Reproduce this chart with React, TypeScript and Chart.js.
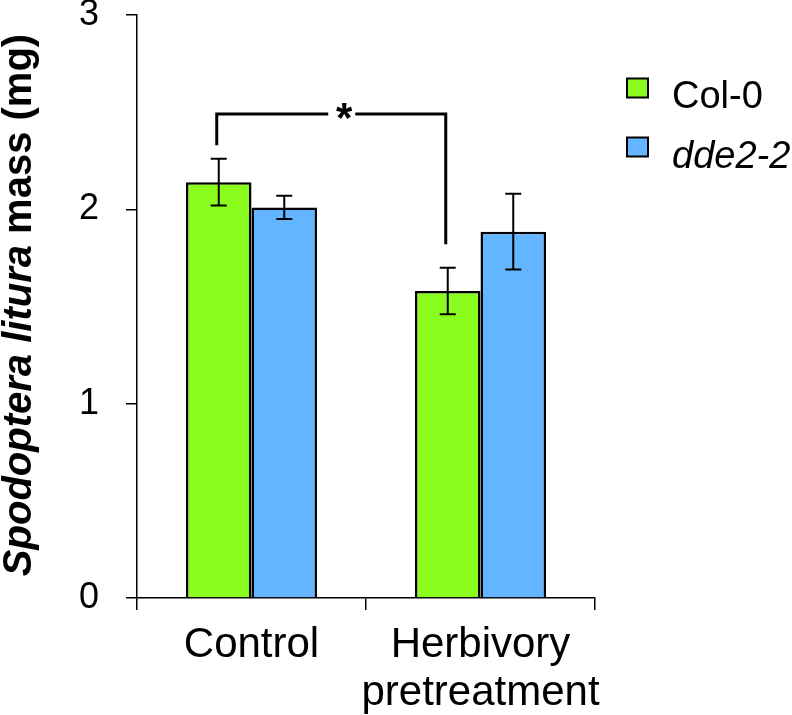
import React, { useEffect, useRef } from 'react';
import { Chart, registerables } from 'chart.js';

Chart.register(...registerables);

const categories = [['Control'], ['Herbivory', 'pretreatment']];
const seriesNames = ['Col-0', 'dde2-2'];
const col0Values = [2.14, 1.58];
const dde22Values = [2.01, 1.885];
const col0Errors = [0.12, 0.12];
const dde22Errors = [0.06, 0.195];
const yTickValues = [0, 1, 2, 3];
// significance bracket between Col-0 Control and Col-0 Herbivory (data units)
const bracketTop = 2.49;
const bracketLeftEnd = 2.33;
const bracketRightEnd = 1.82;
const bracketLabel = '*';

const FONT = '"Liberation Sans", Arial, Helvetica, sans-serif';
const GREEN = '#8AFC1E';
const BLUE = '#63B5FF';

const errorBarPlugin = {
  id: 'errorBars',
  afterDatasetsDraw(chart: any) {
    const ctx = chart.ctx;
    const y = chart.scales.y;
    const errs = [col0Errors, dde22Errors];
    ctx.save();
    ctx.strokeStyle = '#000';
    ctx.lineWidth = 2;
    chart.data.datasets.forEach((ds: any, i: number) => {
      const meta = chart.getDatasetMeta(i);
      meta.data.forEach((el: any, j: number) => {
        const v = ds.data[j];
        const e = errs[i][j];
        const x = el.x;
        const yt = y.getPixelForValue(v + e);
        const yb = y.getPixelForValue(v - e);
        const cap = 8;
        ctx.beginPath();
        ctx.moveTo(x, yt);
        ctx.lineTo(x, yb);
        ctx.moveTo(x - cap, yt);
        ctx.lineTo(x + cap, yt);
        ctx.moveTo(x - cap, yb);
        ctx.lineTo(x + cap, yb);
        ctx.stroke();
      });
    });
    ctx.restore();
  },
};

const bracketPlugin = {
  id: 'sigBracket',
  afterDatasetsDraw(chart: any) {
    const ctx = chart.ctx;
    const y = chart.scales.y;
    const meta = chart.getDatasetMeta(0);
    const xl = meta.data[0].x - 2;
    const xr = meta.data[1].x - 2;
    const yt = y.getPixelForValue(bracketTop);
    const yl = y.getPixelForValue(bracketLeftEnd);
    const yr = y.getPixelForValue(bracketRightEnd);
    const xs = (xl + xr) / 2 + 13;
    ctx.save();
    ctx.strokeStyle = '#000';
    ctx.lineWidth = 3;
    ctx.lineCap = 'butt';
    ctx.beginPath();
    ctx.moveTo(xl, yl);
    ctx.lineTo(xl, yt);
    ctx.lineTo(xs - 16, yt);
    ctx.moveTo(xs + 11, yt);
    ctx.lineTo(xr, yt);
    ctx.lineTo(xr, yr);
    ctx.stroke();
    ctx.fillStyle = '#000';
    ctx.font = `bold 42px ${FONT}`;
    ctx.textAlign = 'center';
    ctx.textBaseline = 'middle';
    ctx.fillText(bracketLabel, xs, yt + 6);
    ctx.restore();
  },
};

const legendPlugin = {
  id: 'customLegend',
  afterDraw(chart: any) {
    const ctx = chart.ctx;
    ctx.save();
    const items = [
      { text: seriesNames[0], color: GREEN, italic: false, y: 88 },
      { text: seriesNames[1], color: BLUE, italic: true, y: 147 },
    ];
    items.forEach((it) => {
      ctx.fillStyle = it.color;
      ctx.fillRect(627, it.y - 9.5, 21, 19);
      ctx.strokeStyle = '#000';
      ctx.lineWidth = 2;
      ctx.strokeRect(627, it.y - 9.5, 21, 19);
      ctx.fillStyle = '#000';
      ctx.font = `${it.italic ? 'italic ' : ''}38px ${FONT}`;
      ctx.textAlign = 'left';
      ctx.textBaseline = 'middle';
      ctx.fillText(it.text, 672, it.y + 10);
    });
    ctx.restore();
  },
};

const yTitlePlugin = {
  id: 'yTitle',
  afterDraw(chart: any) {
    const ctx = chart.ctx;
    ctx.save();
    const parts = [
      { t: 'Spodoptera litura', f: `italic bold 40px ${FONT}` },
      { t: ' mass (mg)', f: `bold 40px ${FONT}` },
    ];
    let total = 0;
    const widths = parts.map((p) => {
      ctx.font = p.f;
      const w = ctx.measureText(p.t).width;
      total += w;
      return w;
    });
    ctx.translate(20, 305);
    ctx.rotate(-Math.PI / 2);
    ctx.fillStyle = '#000';
    ctx.textBaseline = 'middle';
    ctx.textAlign = 'left';
    let x = -total / 2;
    parts.forEach((p, i) => {
      ctx.font = p.f;
      ctx.fillText(p.t, x, 0);
      x += widths[i];
    });
    ctx.restore();
  },
};

export default function App() {
  const ref = useRef<HTMLCanvasElement | null>(null);
  useEffect(() => {
    document.body.style.margin = '0';
    const canvas = ref.current!;
    const chart = new Chart(canvas, {
      type: 'bar',
      data: {
        labels: categories as any,
        datasets: [
          {
            label: seriesNames[0],
            data: col0Values,
            backgroundColor: GREEN,
            borderColor: '#000',
            borderWidth: 2.5,
            borderSkipped: 'bottom',
            categoryPercentage: 0.572,
            barPercentage: 1,
          },
          {
            label: seriesNames[1],
            data: dde22Values,
            backgroundColor: BLUE,
            borderColor: '#000',
            borderWidth: 2.5,
            borderSkipped: 'bottom',
            categoryPercentage: 0.572,
            barPercentage: 1,
          },
        ],
      },
      options: {
        animation: false,
        responsive: false,
        maintainAspectRatio: false,
        layout: { padding: { left: 0, right: 197, top: 15, bottom: 0 } },
        plugins: {
          legend: { display: false },
          tooltip: { enabled: false },
        },
        scales: {
          x: {
            grid: {
              display: true,
              offset: true,
              drawOnChartArea: false,
              drawTicks: true,
              tickLength: 12,
              color: '#000',
              lineWidth: 1.5,
            },
            border: { display: true, color: '#000', width: 1.5 },
            ticks: {
              color: '#000',
              font: { family: FONT, size: 42, lineHeight: 1.15 },
              padding: 11,
              maxRotation: 0,
              autoSkip: false,
            },
            afterFit: (s: any) => {
              s.height = 117;
              s.paddingLeft = 0;
              s.paddingRight = 0;
            },
          },
          y: {
            min: 0,
            max: 3,
            afterBuildTicks: (s: any) => {
              s.ticks = yTickValues.map((v) => ({ value: v }));
            },
            grid: {
              display: true,
              drawOnChartArea: false,
              drawTicks: true,
              tickLength: 11,
              color: '#000',
              lineWidth: 1.5,
            },
            border: { display: true, color: '#000', width: 1.5 },
            ticks: {
              color: '#000',
              font: { family: FONT, size: 36 },
              padding: 27,
            },
            afterFit: (s: any) => {
              s.width = 137;
              s.paddingTop = 0;
              s.paddingBottom = 0;
            },
          },
        },
      },
      plugins: [errorBarPlugin, bracketPlugin, legendPlugin, yTitlePlugin],
    });
    return () => chart.destroy();
  }, []);
  return (
    <div style={{ width: 792, height: 715 }}>
      <canvas ref={ref} width={792} height={715} style={{ display: 'block' }} />
    </div>
  );
}
